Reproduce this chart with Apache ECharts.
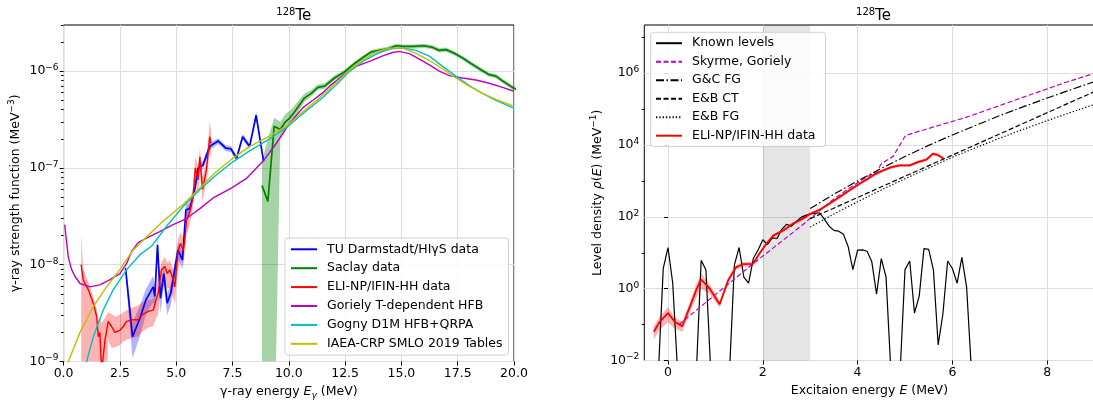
<!DOCTYPE html>
<html><head><meta charset="utf-8">
<script src="https://cdn.jsdelivr.net/npm/echarts@6/dist/echarts.min.js"></script>
<style>html,body{margin:0;padding:0;background:#fff}#c{width:1093px;height:400px}</style>
</head><body><div id="c"></div>
<script>
const FONT = 'DejaVu Sans';
// ---------------- LEFT PANEL: gamma-ray strength function ----------------
const tudE = [2.75,3.06,3.39,3.65,3.98,4.05,4.17,4.3,4.45,4.6,4.76,5.08,5.28,5.43,5.6,5.82,5.97,6.19,6.49,6.86,7.2,7.43,7.68,7.95,8.26,8.55,8.88];
const tudF = [9.2e-9,1.8e-9,2.8e-9,4.3e-9,5.9e-9,4.7e-9,1.6e-8,4.5e-9,8.1e-9,4.0e-9,5.1e-9,1.42e-8,1.12e-8,3.7e-8,3.8e-8,5.9e-8,9.9e-8,1.07e-7,1.67e-7,1.9e-7,1.6e-7,1.58e-7,1.26e-7,2.1e-7,1.67e-7,3.5e-7,1.17e-7];
const tudErr = [0.15,0.4,0.35,0.3,0.3,0.3,0.25,0.3,0.25,0.25,0.25,0.2,0.2,0.15,0.15,0.1,0.1,0.1,0.08,0.07,0.07,0.07,0.07,0.07,0.07,0.1,0.08];

const sacE = [8.81,9.07,9.35,9.62,9.85,10.05,10.26,10.7,11.0,11.29,11.59,12.03,12.47,12.92,13.36,13.66,14.02,14.39,14.76,15.06,15.5,16.02,16.39,16.68,16.98,17.35,17.72,18.09,18.46,18.9,19.2,19.5,19.93,20.3];
const sacF = [6.6e-8,4.5e-8,2.7e-7,2.5e-7,3.0e-7,3.3e-7,3.8e-7,5.3e-7,5.9e-7,6.8e-7,7.0e-7,8.5e-7,9.8e-7,1.2e-6,1.42e-6,1.58e-6,1.64e-6,1.7e-6,1.83e-6,1.8e-6,1.8e-6,1.83e-6,1.76e-6,1.64e-6,1.67e-6,1.53e-6,1.37e-6,1.2e-6,1.06e-6,9.2e-7,8.9e-7,7.9e-7,6.8e-7,6.2e-7];
const sacErrLo = [1,1,1,0.2,0.17,0.15,0.13,0.09,0.07,0.06,0.06,0.06,0.05,0.05,0.05,0.05,0.05,0.05,0.05,0.05,0.05,0.05,0.05,0.05,0.05,0.05,0.05,0.05,0.05,0.05,0.05,0.05,0.05,0.05];
const sacErrHi = [0.8,3.4,0.22,0.2,0.2,0.18,0.16,0.11,0.08,0.07,0.07,0.06,0.05,0.05,0.05,0.05,0.05,0.05,0.05,0.05,0.05,0.05,0.05,0.05,0.05,0.05,0.05,0.05,0.05,0.05,0.05,0.05,0.05,0.05];

const eliE = [0.78,0.87,1.1,1.32,1.47,1.54,1.61,1.69,1.84,1.98,2.13,2.28,2.5,2.65,2.8,3.09,3.31,3.46,3.61,3.76,3.98,4.1,4.2,4.35,4.5,4.6,4.72,4.86,4.94,5.08,5.19,5.31,5.38,5.46,5.6,5.75,5.85,5.97,6.05,6.17,6.34,6.49,6.55];
const eliF = [1.0e-8,7.0e-9,5.5e-9,4.0e-9,2.9e-9,1.8e-9,2.0e-9,8e-10,1.67e-9,2.6e-9,2.3e-9,2.0e-9,2.1e-9,2.3e-9,2.6e-9,2.7e-9,2.7e-9,3.0e-9,3.15e-9,3.3e-9,3.4e-9,4.3e-9,5.1e-9,8.9e-9,9.6e-9,8.1e-9,8.9e-9,7.0e-9,5.9e-9,1.37e-8,1.66e-8,1.4e-8,1.8e-8,2.9e-8,3.5e-8,5.1e-8,1.0e-7,7.5e-8,1.3e-7,6.0e-8,9.5e-8,2.1e-7,1.8e-7];
const eliErrLo = [1,1,1,1,1,1,1,1,1,0.35,0.4,0.3,0.3,0.3,0.35,0.35,0.33,0.33,0.33,0.32,0.32,0.35,0.4,0.35,0.35,0.3,0.35,0.35,0.33,0.35,0.3,0.3,0.3,0.3,0.25,0.22,0.3,0.3,0.3,0.25,0.25,0.3,0.3];
const eliErrHi = [1.1,0.3,0.2,0.15,0.2,0.5,0.4,2.1,0.7,0.25,0.35,0.45,0.45,0.4,0.3,0.35,0.4,0.35,0.35,0.3,0.3,0.3,0.5,0.2,0.25,0.3,0.25,0.3,0.4,0.35,0.3,0.35,0.3,0.3,0.25,0.25,0.3,0.35,0.25,0.35,0.25,0.45,0.35];

const gorE = [0.05,0.1,0.21,0.35,0.5,0.73,1.17,1.61,2.06,2.5,2.8,3.02,3.31,3.68,4.27,4.86,5.46,6.05,6.64,7.45,8.12,8.85,9.45,10.04,10.63,11.07,11.51,11.81,12.4,12.99,13.58,14.17,14.61,14.91,15.35,15.8,16.24,16.68,17.13,17.72,18.31,18.9,19.49,20.0];
const gorF = [2.6e-8,2.0e-8,1.2e-8,9.0e-9,7.6e-9,6.4e-9,5.9e-9,6.2e-9,7.0e-9,8.1e-9,1.03e-8,1.37e-8,1.69e-8,1.88e-8,2.2e-8,2.6e-8,3.0e-8,3.8e-8,4.9e-8,6.2e-8,7.8e-8,1.17e-7,1.8e-7,2.9e-7,4.2e-7,5.0e-7,6.0e-7,7.0e-7,9.0e-7,1.12e-6,1.26e-6,1.44e-6,1.56e-6,1.6e-6,1.52e-6,1.33e-6,1.16e-6,1.0e-6,9.0e-7,8.5e-7,8.1e-7,7.5e-7,6.8e-7,6.2e-7];

const gogE = [0.85,1.02,1.32,1.76,2.2,2.8,3.39,3.9,4.57,5.31,6.05,6.79,7.5,8.26,9.0,9.89,10.63,11.37,12.1,12.7,13.29,13.88,14.47,15.06,15.65,16.24,16.83,17.42,18.01,18.6,19.2,19.93,20.0];
const gogF = [7e-10,1.0e-9,1.8e-9,3.4e-9,5.5e-9,8.9e-9,1.27e-8,1.55e-8,2.5e-8,4.0e-8,6.0e-8,8.5e-8,1.15e-7,1.5e-7,1.9e-7,2.6e-7,3.65e-7,5.0e-7,7.2e-7,1.0e-6,1.26e-6,1.5e-6,1.7e-6,1.73e-6,1.64e-6,1.43e-6,1.12e-6,8.9e-7,7.1e-7,5.9e-7,5.0e-7,4.2e-7,4.15e-7];

const smloE = [0.05,0.21,0.73,1.32,1.91,2.5,3.09,3.75,4.4,5.31,6.05,6.79,7.5,8.26,9.0,9.89,10.63,11.37,12.1,12.7,13.29,13.88,14.47,15.06,15.65,16.24,16.83,17.42,18.01,18.6,19.2,19.93,20.0];
const smloF = [8e-10,1.0e-9,2.0e-9,3.7e-9,5.9e-9,8.9e-9,1.42e-8,2.0e-8,2.8e-8,4.2e-8,6.2e-8,9.2e-8,1.25e-7,1.67e-7,2.05e-7,2.7e-7,3.8e-7,5.3e-7,7.6e-7,1.03e-6,1.3e-6,1.58e-6,1.73e-6,1.73e-6,1.53e-6,1.29e-6,1.06e-6,8.5e-7,7.0e-7,5.9e-7,5.1e-7,4.4e-7,4.35e-7];

const leftYTicks = [1e-9,1e-8,1e-7,1e-6];
const leftYExp = ['\u22129','\u22128','\u22127','\u22126'];
const leftYMinor = [2e-9,3e-9,4e-9,5e-9,6e-9,7e-9,8e-9,9e-9,2e-8,3e-8,4e-8,5e-8,6e-8,7e-8,8e-8,9e-8,2e-7,3e-7,4e-7,5e-7,6e-7,7e-7,8e-7,9e-7,2e-6,3e-6];
const leftNames = ['TU Darmstadt/HI\u03b3S data','Saclay data','ELI-NP/IFIN-HH data','Goriely T-dependent HFB','Gogny D1M HFB+QRPA','IAEA-CRP SMLO 2019 Tables'];

// ---------------- RIGHT PANEL: level density ----------------
const knownE = [-0.2,-0.1,0,0.1,0.2,0.3,0.4,0.5,0.6,0.7,0.8,0.9,1.0,1.1,1.2,1.3,1.4,1.5,1.6,1.7,1.8,1.9,2.0,2.1,2.2,2.3,2.4,2.5,2.6,2.7,2.8,2.9,3.0,3.1,3.2,3.3,3.4,3.5,3.6,3.7,3.8,3.9,4.0,4.1,4.2,4.3,4.4,4.5,4.6,4.7,4.8,4.9,5.0,5.1,5.2,5.3,5.4,5.5,5.6,5.7,5.8,5.9,6.0,6.1,6.2,6.3,6.4];
const knownRho = [0.0056,3.65,14,1.42,0.0056,0.0056,0.0056,0.0056,0.0056,6.2,3.3,0.0056,0.0056,0.0056,0.0056,0.0056,4.5,14,2.1,1.42,6.9,12,23,17,26,25,45,62,55,72,95,110,120,125,130,85,55,42,40,33,15,3.4,11.8,12,11,5.6,0.7,6.9,2.1,0.0056,0.0056,0.0056,3.4,5.9,0.21,0.62,13,12.5,3.3,0.027,0.2,5.9,3.65,1.42,7.4,1.1,0.0056];

const eliRE = [-0.3,-0.175,0.0,0.14,0.3,0.46,0.6,0.7,0.88,1.09,1.27,1.44,1.58,1.79,1.93,2.08,2.22,2.43,2.64,2.85,2.99,3.2,3.41,3.62,3.83,4.04,4.22,4.36,4.54,4.71,4.89,5.1,5.27,5.45,5.59,5.7,5.82];
const eliRRho = [0.063,0.12,0.21,0.12,0.09,0.31,0.95,1.8,1.0,0.37,1.73,4.0,4.8,4.9,9.5,18,30,42,65,90,120,158,234,357,548,840,1160,1525,1970,2430,2710,2710,3350,3900,5740,5200,4170];
const eliRErr = [0.4,0.4,0.45,0.35,0.3,0.3,0.4,0.45,0.3,0.2,0.2,0.15,0.15,0.12,0.12,0.12,0.1,0.1,0.1,0.1,0.1,0.1,0.1,0.1,0.1,0.1,0.1,0.1,0.1,0.1,0.1,0.1,0.1,0.1,0.1,0.1,0.1];

const skyE = [0.23,1.79,2.78,3.48,3.83,4.19,4.4,4.5,4.75,5.01,5.59,6.3,7.0,7.7,8.4,9.0];
const skyRho = [0.10,4.9,52,300,640,1280,1770,3000,4830,18500,31500,59700,126000,267000,561000,1.0e6];
const gcE = [3.0,3.5,4.0,4.5,5.0,5.5,6.0,6.5,7.0,7.5,8.0,8.5,9.0];
const gcRho = [170,427,1000,2240,4790,9770,19100,35500,66100,117000,204000,347000,589000];
const ctE = [3.0,5.0,7.0,9.0];
const ctRho = [89,1350,20400,309000];
const fgE = [3.0,3.5,4.0,4.5,5.0,5.5,6.0,6.5,7.0,7.5,8.0,8.5,9.0];
const fgRho = [52,120,263,562,1150,2290,4570,8510,15500,27500,47900,81300,135000];
const grayBand = [2, 3];

const rightXTicks = [0,2,4,6,8];
const rightYTicks = [1e-2,1,1e2,1e4,1e6];
const rightYExp = ['\u22122','0','2','4','6'];
const rightYMinor = [1e-1,1e1,1e3,1e5,1e7];
const rightNames = ['Known levels','Skyrme, Goriely','G&C FG','E&B CT','E&B FG','ELI-NP/IFIN-HH data '];

// ---------------- helpers ----------------
function pairs(xs, ys){ return xs.map((x,i)=>[x, ys[i]]); }
function line(name, xs, ys, xi, yi, color, width, type){
  return {name, type:'line', xAxisIndex:xi, yAxisIndex:yi, data:pairs(xs,ys), symbol:'none', showSymbol:false,
    lineStyle:{color, width, type:type||'solid'}, itemStyle:{color}, z:3, silent:true, clip:true, emphasis:{disabled:true}};
}
function band(xs, ys, errLo, errHi, xi, yi, color, floor){
  const hi = ys.map((v,i)=>v*(1+errHi[i]));
  const lo = ys.map((v,i)=>Math.max(v*(1-errLo[i]), floor));
  return {type:'custom', xAxisIndex:xi, yAxisIndex:yi, silent:true, z:1, clip:true, data:[[xs[0], ys[0]]],
    renderItem(params, api){
      const pts = [];
      for (let i=0;i<xs.length;i++) pts.push(api.coord([xs[i], hi[i]]));
      for (let i=xs.length-1;i>=0;i--) pts.push(api.coord([xs[i], lo[i]]));
      const cs = params.coordSys;
      return {type:'polygon', shape:{points:pts}, style:{fill:color},
        clipPath:{type:'rect', shape:{x:cs.x, y:cs.y, width:cs.width, height:cs.height}}};
    }};
}
function expFormatter(ticks, exps){
  return v => {
    let best = 0, bd = Infinity;
    ticks.forEach((t,i)=>{ const d = Math.abs(Math.log(v/t)); if (d<bd){bd=d;best=i;} });
    return '{b|10}{s|' + exps[best] + '}';
  };
}
const txt = {fontFamily:FONT, fontSize:12.5, color:'#000', fontWeight:'normal'};
const expRich = {b:{...txt, lineHeight:16}, s:{...txt, fontSize:9, verticalAlign:'top', lineHeight:10}};
const nameRich = {t:{...txt, lineHeight:16}, i:{...txt, fontStyle:'italic', lineHeight:16},
  sub:{...txt, fontSize:9, fontStyle:'italic', verticalAlign:'bottom', lineHeight:10},
  sup:{...txt, fontSize:9, verticalAlign:'top', lineHeight:10}};
const titleRich = {s:{...txt, fontSize:10, verticalAlign:'top', lineHeight:11}, b:{...txt, fontSize:15, lineHeight:18}};
const gridLine = {show:true, lineStyle:{color:'#dcdcdc', width:1}};
const tickStyle = {lineStyle:{color:'#000', width:1}};

const legendBase = {orient:'vertical', itemWidth:26, itemHeight:10, selectedMode:false,
  backgroundColor:'rgba(255,255,255,0.85)', borderColor:'#d0d0d0', borderWidth:1, borderRadius:3, z:10,
  itemStyle:{opacity:0, borderWidth:0, color:'rgba(0,0,0,0)'},
  textStyle:{...txt, lineHeight:15, padding:[0,0,0,5]}};

const option = {
  animation:false,
  textStyle:{fontFamily:FONT},
  title:[
    {text:'{s|128}{b|Te}', left:288.8, top:2, textAlign:'center', textStyle:{fontWeight:'normal', rich:titleRich}},
    {text:'{s|128}{b|Te}', left:868.5, top:2, textAlign:'center', textStyle:{fontWeight:'normal', rich:titleRich}}
  ],
  grid:[
    {left:63.6, top:25, width:450.4, height:336.5, show:true, borderColor:'#000', borderWidth:1, backgroundColor:'transparent', containLabel:false, outerBoundsMode:'none'},
    {left:644.3, top:25, width:450.3, height:335.5, show:true, borderColor:'#000', borderWidth:1, backgroundColor:'transparent', containLabel:false, outerBoundsMode:'none'}
  ],
  xAxis:[
    {gridIndex:0, type:'value', min:0, max:20, interval:2.5, axisLine:{show:false},
     axisTick:{length:4, ...tickStyle}, splitLine:gridLine,
     axisLabel:{...txt, margin:6, formatter:v=>v.toFixed(1)},
     name:'{t|\u03b3-ray energy }{i|E}{sub|\u03b3}{t| (MeV)}', nameLocation:'middle', nameGap:15,
     nameTextStyle:{...txt, rich:nameRich}},
    {gridIndex:1, type:'value', min:-0.5, max:9, axisLine:{show:false},
     axisTick:{length:4, customValues:rightXTicks, ...tickStyle}, splitLine:gridLine,
     axisLabel:{...txt, margin:6, customValues:rightXTicks, formatter:v=>String(v)},
     name:'{t|Excitaion energy }{i|E}{t| (MeV)}', nameLocation:'middle', nameGap:15,
     nameTextStyle:{...txt, rich:nameRich}}
  ],
  yAxis:[
    {gridIndex:0, type:'log', logBase:10, min:1e-9, max:3e-6, position:'left', axisLine:{show:false},
     axisTick:{length:4, customValues:leftYTicks, ...tickStyle}, splitLine:gridLine,
     axisLabel:{...txt, margin:5, customValues:leftYTicks, formatter:expFormatter(leftYTicks, leftYExp), rich:expRich},
     name:'{t|\u03b3-ray strength function (MeV}{sup|\u22123}{t|)}', nameLocation:'middle', nameRotate:90, nameGap:40,
     nameTextStyle:{...txt, rich:nameRich}},
    {gridIndex:0, type:'log', logBase:10, min:1e-9, max:3e-6, position:'left', axisLine:{show:false},
     axisTick:{length:2.5, customValues:leftYMinor, ...tickStyle}, splitLine:{show:false}, axisLabel:{show:false}},
    {gridIndex:1, type:'log', logBase:10, min:1e-2, max:2.2e7, position:'left', axisLine:{show:false},
     axisTick:{length:4, customValues:rightYTicks, ...tickStyle}, splitLine:gridLine,
     axisLabel:{...txt, margin:5, customValues:rightYTicks, formatter:expFormatter(rightYTicks, rightYExp), rich:expRich},
     name:'{t|Level density }{i|\u03c1}{t|(}{i|E}{t|) (MeV}{sup|\u22121}{t|)}', nameLocation:'middle', nameRotate:90, nameGap:39,
     nameTextStyle:{...txt, rich:nameRich}},
    {gridIndex:1, type:'log', logBase:10, min:1e-2, max:2.2e7, position:'left', axisLine:{show:false},
     axisTick:{length:2.5, customValues:rightYMinor, ...tickStyle}, splitLine:{show:false}, axisLabel:{show:false}}
  ],
  legend:[
    {...legendBase, data:leftNames, left:285, top:238, itemGap:3.9, padding:[3.8,6,3.8,5]},
    {...legendBase, data:rightNames, left:650.7, top:32.3, itemGap:3.5, padding:[3.4,6,3.4,4.3]}
  ],
  series:[
    band(tudE, tudF, tudErr, tudErr, 0, 0, 'rgba(0,0,255,0.3)', 1e-10),
    band(sacE, sacF, sacErrLo, sacErrHi, 0, 0, 'rgba(0,128,0,0.35)', 1e-10),
    band(eliE, eliF, eliErrLo, eliErrHi, 0, 0, 'rgba(255,0,0,0.3)', 1e-10),
    line(leftNames[0], tudE, tudF, 0, 0, '#0000ff', 1.7),
    line(leftNames[1], sacE, sacF, 0, 0, '#008000', 1.7),
    line(leftNames[2], eliE, eliF, 0, 0, '#ff0000', 1.4),
    line(leftNames[3], gorE, gorF, 0, 0, '#bf00bf', 1.4),
    line(leftNames[4], gogE, gogF, 0, 0, '#00bfbf', 1.4),
    line(leftNames[5], smloE, smloF, 0, 0, '#bfbf00', 1.4),

    band(eliRE, eliRRho, eliRErr, eliRErr, 1, 2, 'rgba(255,0,0,0.3)', 1e-4),
    Object.assign(line(rightNames[0], knownE, knownRho, 1, 2, '#000000', 1.2), {
      markArea:{silent:true, itemStyle:{color:'rgba(0,0,0,0.1)'}, data:[[{xAxis:grayBand[0]},{xAxis:grayBand[1]}]]}}),
    line(rightNames[1], skyE, skyRho, 1, 2, '#bf00bf', 1.2, [5,2.5]),
    line(rightNames[2], gcE, gcRho, 1, 2, '#000000', 1.2, [8,2.5,1.5,2.5]),
    line(rightNames[3], ctE, ctRho, 1, 2, '#000000', 1.2, [5,2.5]),
    line(rightNames[4], fgE, fgRho, 1, 2, '#000000', 1.2, [1.3,2]),
    line(rightNames[5], eliRE, eliRRho, 1, 2, '#ff0000', 1.8)
  ]
};
const chart = echarts.init(document.getElementById('c'), null, {renderer:'canvas'});
chart.setOption(option);
</script></body></html>
